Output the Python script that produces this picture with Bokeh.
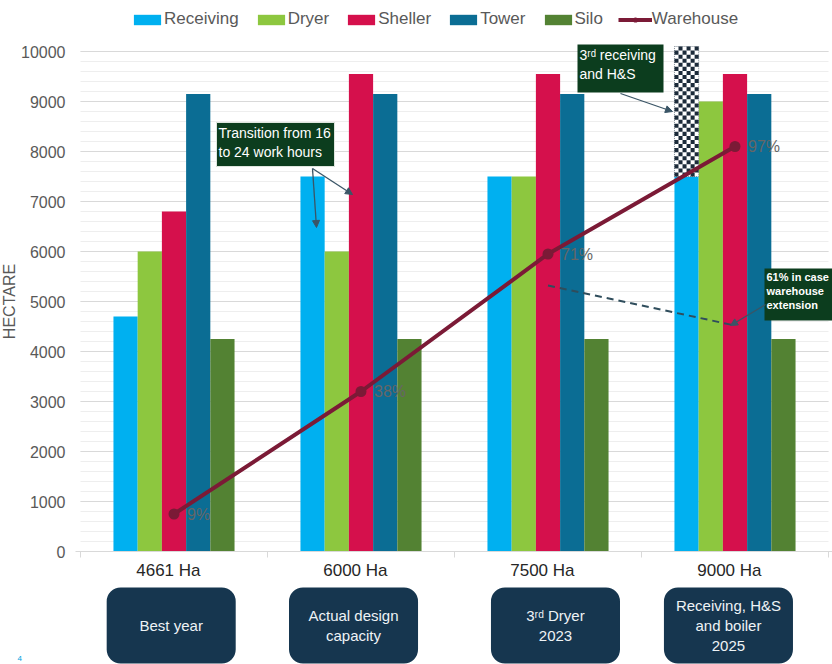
import numpy as np
from bokeh.plotting import figure
from bokeh.models import (Range1d, LinearAxis, FixedTicker, Grid, CustomJSTickFormatter,
                          Legend, LegendItem, Arrow, NormalHead)
from bokeh.core.properties import value
from bokeh.embed import file_html
from bokeh.resources import INLINE

# ---- data -------------------------------------------------------------
categories = ["4661 Ha", "6000 Ha", "7500 Ha", "9000 Ha"]
milestones = ["Best year", "Actual design\ncapacity", "3ʳᵈ Dryer\n2023",
              "Receiving, H&S\nand boiler\n2025"]
receiving = [4700, 7500, 7500, 7500]
receiving_planned = [0, 0, 0, 2600]   # extra receiving + H&S (hatched)
dryer = [6000, 6000, 7500, 9000]
sheller = [6800, 9550, 9550, 9550]
tower = [9150, 9150, 9150, 9150]
silo = [4250, 4250, 4250, 4250]
warehouse = [750, 3200, 5950, 8100]
warehouse_pct = ["9%", "38%", "71%", "97%"]
warehouse_ext = [5320, 4520]          # last two stages with warehouse extension
y_ticks = list(range(0, 10001, 1000))
y_minor = list(range(0, 10001, 200))

# ---- layout -----------------------------------------------------------
W, H = 832, 664
LEFT = 80        # canvas px where the first category starts
CAT_PX = 187     # px per category
BASE = 551       # canvas px of y = 0
UNIT_PX = 0.05   # px per hectare
BAR_W = 0.1295
FONT = "Liberation Sans"


def cx(px):
    return (px - LEFT) / CAT_PX


def cy(py):
    return (BASE - py) / UNIT_PX


p = figure(width=W, height=H, x_range=Range1d(cx(0), cx(W)), y_range=Range1d(cy(H), cy(0)),
           x_axis_type=None, y_axis_type=None, output_backend="svg", toolbar_location=None,
           min_border=0, outline_line_color=None, background_fill_color="white")

# grid
ygrid = Grid(dimension=1, ticker=FixedTicker(ticks=y_ticks, minor_ticks=y_minor),
             grid_line_color="#d9d9d9", grid_line_width=1,
             minor_grid_line_color="#eeeeee", cross_bounds=(0, 4))
p.add_layout(ygrid)

# axes
yaxis = LinearAxis(fixed_location=0, ticker=FixedTicker(ticks=y_ticks),
                   axis_line_color=None, major_tick_line_color=None, minor_tick_line_color=None,
                   major_tick_out=0, major_label_standoff=15,
                   major_label_text_font_size="16px", major_label_text_color="#595959",
                   major_label_text_font=FONT)
p.add_layout(yaxis, "left")

xs = np.arange(len(categories)) + 0.5
xaxis = LinearAxis(fixed_location=0,
                   ticker=FixedTicker(ticks=list(xs - 0.03), minor_ticks=list(range(5))),
                   formatter=CustomJSTickFormatter(args=dict(labels=categories),
                                                   code="return labels[index]"),
                   bounds=(cx(75), 4.02),
                   axis_line_color="#d9d9d9", major_tick_line_color=None, major_tick_out=0,
                   minor_tick_line_color="#d9d9d9", minor_tick_out=6, minor_tick_in=0,
                   major_label_standoff=3, major_label_text_font_size="17px",
                   major_label_text_color="#262626", major_label_text_font=FONT)
p.add_layout(xaxis, "below")

# bars
series = [("Receiving", receiving, "#00b0f0"),
          ("Dryer", dryer, "#8dc73f"),
          ("Sheller", sheller, "#d5104c"),
          ("Tower", tower, "#0b6d94"),
          ("Silo", silo, "#538233")]
bar_renderers = []
for i, (name, vals, color) in enumerate(series):
    r = p.vbar(x=xs + (i - 2) * BAR_W, top=vals, width=BAR_W,
               fill_color=color, line_color=None)
    bar_renderers.append((name, r))

# checkered block on top of receiving for planned capacity
for k, extra in enumerate(receiving_planned):
    if extra <= 0:
        continue
    left = xs[k] - 2.5 * BAR_W
    bottom = receiving[k]
    ncol = 6
    nrow = int(round(extra * UNIT_PX / 4.05))
    cw = BAR_W / ncol
    ch = extra / nrow
    p.quad(left=[left], right=[left + BAR_W], bottom=[bottom], top=[bottom + extra],
           fill_color="white", line_color="#7f8a94", line_dash="1 1", line_width=1)
    ls, rs, bs, ts = [], [], [], []
    for r_ in range(nrow):
        for c_ in range(ncol):
            if (r_ + c_) % 2 == 0:
                ls.append(left + c_ * cw)
                rs.append(left + (c_ + 1) * cw)
                bs.append(bottom + r_ * ch)
                ts.append(bottom + (r_ + 1) * ch)
    p.quad(left=ls, right=rs, bottom=bs, top=ts, fill_color="#1c2b3a", line_color=None)

# warehouse line
wl = p.line(xs, warehouse, line_color="#7b1a36", line_width=4)
ws = p.scatter(xs, warehouse, size=11, fill_color="#7b1a36", line_color=None)
p.text(xs, warehouse, text=warehouse_pct, x_offset=13, text_baseline="middle",
       text_font=value(FONT), text_font_size="16px", text_color="#666666")

# warehouse extension (dashed)
p.line(xs[2:], warehouse_ext, line_color="#2f4d5c", line_width=2, line_dash="7 5")

# callout boxes
GREEN = "#0c3d1e"
ARROW = "#3a5566"


def callout(l, r, t, b, text, size, bold=False, border=True):
    p.quad(left=[cx(l)], right=[cx(r)], top=[cy(t)], bottom=[cy(b)], fill_color=GREEN,
           line_color="#dfe6df" if border else None, line_width=1)
    p.text([cx(l + 2)], [cy(t + 2)], text=[text], text_align="left", text_baseline="top",
           text_font=value(FONT), text_font_size=size, text_color="white",
           text_font_style="bold" if bold else "normal", text_line_height=1.2)


def arrow(x0, y0, x1, y1):
    p.add_layout(Arrow(end=NormalHead(size=7, fill_color=ARROW, line_color=ARROW),
                       x_start=cx(x0), y_start=cy(y0), x_end=cx(x1), y_end=cy(y1),
                       line_color=ARROW, line_width=1.3))


callout(216, 334, 122, 166, "Transition from 16\nto 24 work hours", "14px")
arrow(312, 168, 316, 227)
arrow(312, 168, 352, 194)

callout(577, 663, 44, 92, "3ʳᵈ receiving\nand H&S", "14px", border=False)
arrow(620, 93, 672, 111)

callout(764, 845, 268, 320, "61% in case\nwarehouse\nextension", "11px", bold=True,
        border=False)
arrow(765, 304, 730, 325)

# milestone boxes under the axis
box_shift = np.array([-0.015, -0.04, 0.04, -0.035])
bx = xs + box_shift
p.quad(left=bx - 0.345, right=bx + 0.345, top=cy(587), bottom=cy(663), border_radius=14,
       fill_color="#16364f", line_color=None)
p.text(bx, cy(625), text=milestones, text_align="center", text_baseline="middle",
       text_font=value(FONT), text_font_size="15px", text_color="#eef3f6",
       text_line_height=1.15)

# axis title and page number
p.text([cx(9)], [cy(301)], text=["HECTARE"], angle=np.pi / 2, text_align="center",
       text_baseline="middle", text_font=value(FONT), text_font_size="16px",
       text_color="#595959")
p.text([cx(17)], [cy(658)], text=["4"], text_align="left", text_baseline="middle",
       text_font=value(FONT), text_font_size="8px", text_color="#00a0e0")

# legend
items = [LegendItem(label=name, renderers=[r]) for name, r in bar_renderers]
items.append(LegendItem(label="Warehouse", renderers=[wl, ws]))
legend = Legend(items=items, location=(130, 635), orientation="horizontal",
                glyph_width=34, glyph_height=13, label_standoff=0, spacing=15,
                padding=0, margin=0, border_line_color=None, background_fill_alpha=0,
                label_text_font=FONT, label_text_font_size="17px",
                label_text_color="#595959", label_height=20)
p.add_layout(legend)

open("out.html", "w").write(file_html(p, INLINE))
